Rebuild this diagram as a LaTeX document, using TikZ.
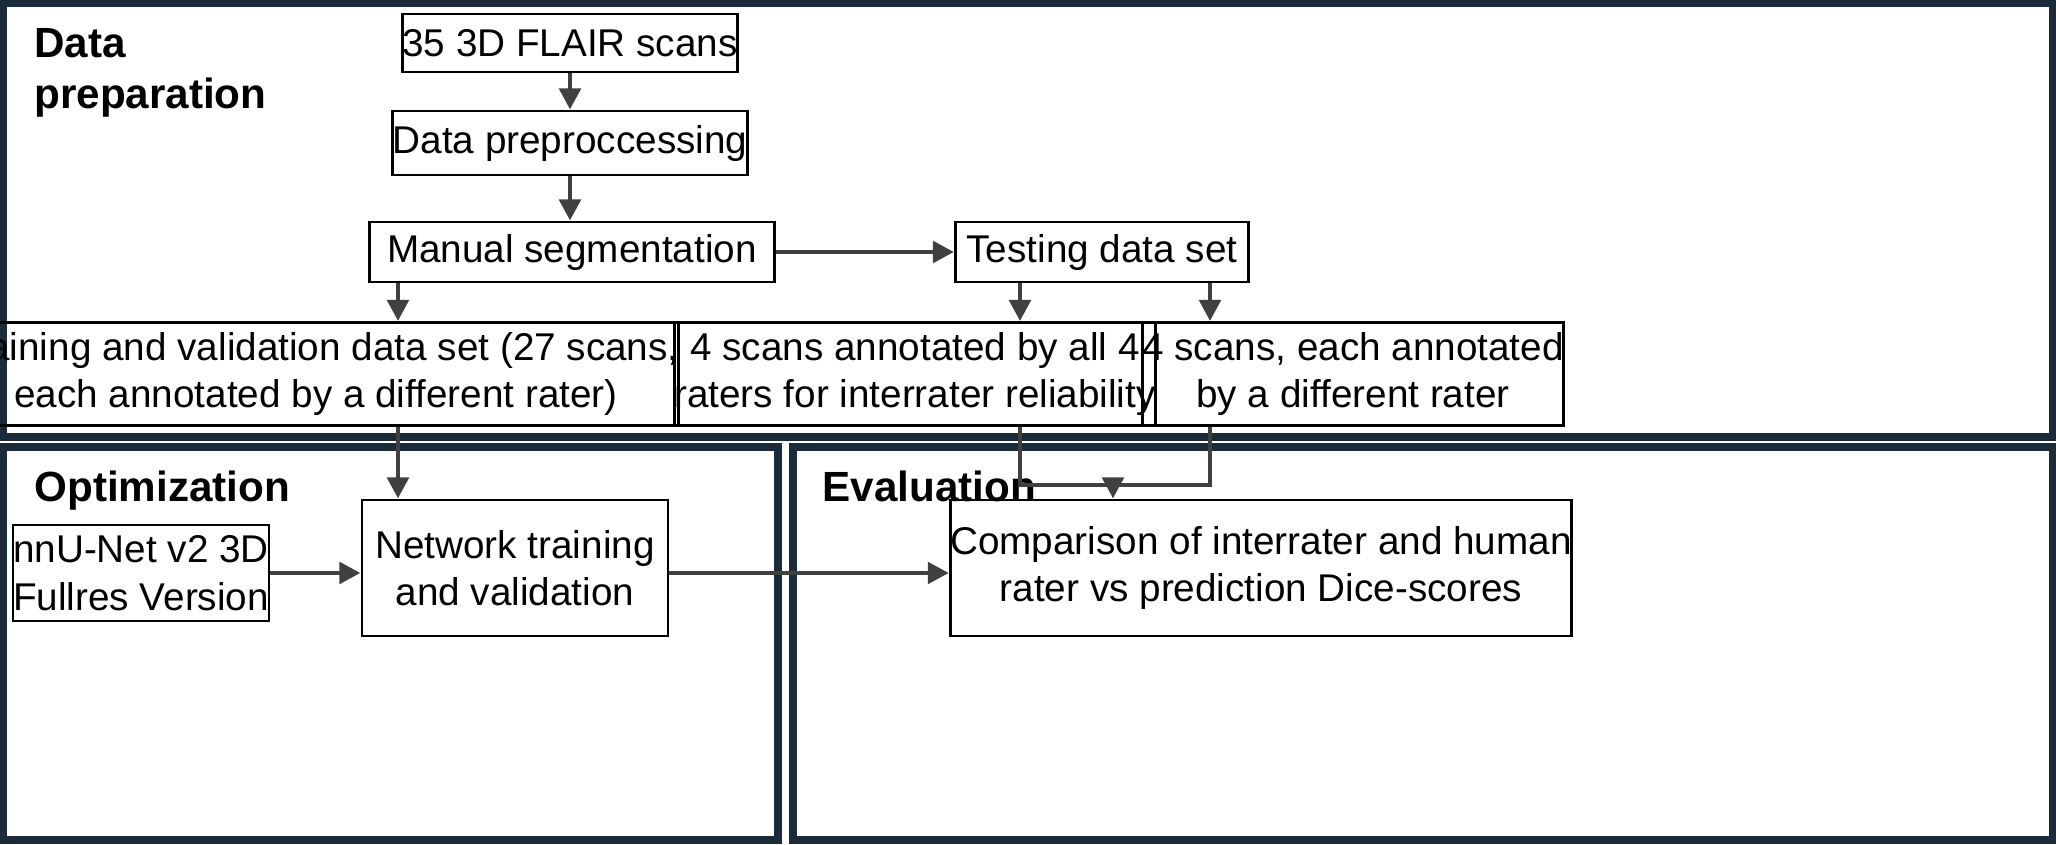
\documentclass[tikz,border=0pt]{standalone}
\usepackage{fontspec}
\setmainfont{Liberation Sans}
\usetikzlibrary{positioning, arrows.meta, calc}
\definecolor{framecol}{HTML}{1C2B3A}
\definecolor{arrowcol}{HTML}{404040}

\begin{document}
\begin{tikzpicture}[
    x=0.01cm, y=-0.01cm,
    % Styles
    panel/.style={ % Section frame
        draw=framecol,
        line width=2.2pt
    },
    stepbox/.style={ % Process box
        draw=black,
        line width=0.8pt,
        align=center,
        font=\fontsize{11}{13.5}\selectfont,
        inner sep=0pt
    },
    title/.style={
        anchor=north west,
        align=left,
        font=\bfseries\fontsize{12}{14.5}\selectfont
    },
    arrow/.style={
        -{Triangle[length=6pt,width=6pt]},
        draw=arrowcol,
        line width=1.4pt
    }
]
    \useasboundingbox (0,0) rectangle (2056,845);

    % Section frames
    \draw[panel] (3,3) rectangle (2053,437);
    \draw[panel] (3,447) rectangle (778,840);
    \draw[panel] (793,447) rectangle (2053,840);
    \node[title] (tprep) at (22,16) {Data\\preparation};
    \node[title] (topt) at (22,458) {Optimization};
    \node[title] (teval) at (810,458) {Evaluation};

    % Process boxes
    \node[stepbox, minimum width=3.04cm, minimum height=0.58cm] (scans) at (570,43) {35 3D FLAIR scans};
    \node[stepbox, minimum width=3.30cm, minimum height=0.64cm] (prep) at (570,143) {Data preproccessing};
    \node[stepbox, minimum width=4.05cm, minimum height=0.60cm] (manual) at (572,252) {Manual segmentation};
    \node[stepbox, minimum width=2.93cm, minimum height=0.60cm] (testing) at (1102,252) {Testing data set};
    \node[stepbox, minimum width=6.17cm, minimum height=1.03cm] (train) at (316,374) {Training and validation data set (27 scans,\\each annotated by a different rater)};
    \node[stepbox, minimum width=4.64cm, minimum height=1.03cm] (allrater) at (915,374) {4 scans annotated by all 4\\raters for interrater reliability};
    \node[stepbox, minimum width=3.90cm, minimum height=1.03cm] (onerater) at (1353,374) {4 scans, each annotated\\by a different rater};
    \node[stepbox, minimum width=2.42cm, minimum height=0.96cm] (nnunet) at (141,573) {nnU-Net v2 3D\\Fullres Version};
    \node[stepbox, minimum width=3.06cm, minimum height=1.36cm] (network) at (515,568) {Network training\\and validation};
    \node[stepbox, minimum width=5.73cm, minimum height=1.36cm] (compare) at (1261,568) {Comparison of interrater and human\\rater vs prediction Dice-scores};

    % Connector guides
    \coordinate (xtrain) at (398,0);
    \coordinate (xall) at (1020,0);
    \coordinate (xone) at (1210,0);
    \coordinate (yflow) at (0,573);
    \coordinate (merge) at (1113,485);

    % Connectors
    \draw[arrow] (scans) -- (prep);
    \draw[arrow] (prep.south -| scans) -- (manual.north -| scans);
    \draw[arrow] (manual.south -| xtrain) -- (train.north -| xtrain);
    \draw[arrow] (manual) -- (testing);
    \draw[arrow] (testing.south -| xall) -- (allrater.north -| xall);
    \draw[arrow] (testing.south -| xone) -- (onerater.north -| xone);
    \draw[arrow] (train.south -| xtrain) -- (network.north -| xtrain);
    \draw[arrow] (nnunet.east |- yflow) -- (network.west |- yflow);
    \draw[arrow] (network.east |- yflow) -- (compare.west |- yflow);
    \draw[draw=arrowcol, line width=1.4pt] (allrater.south -| xall) |- (merge) -| (onerater.south -| xone);
    \draw[arrow] (merge) -- (compare.north -| merge);
\end{tikzpicture}
\end{document}
